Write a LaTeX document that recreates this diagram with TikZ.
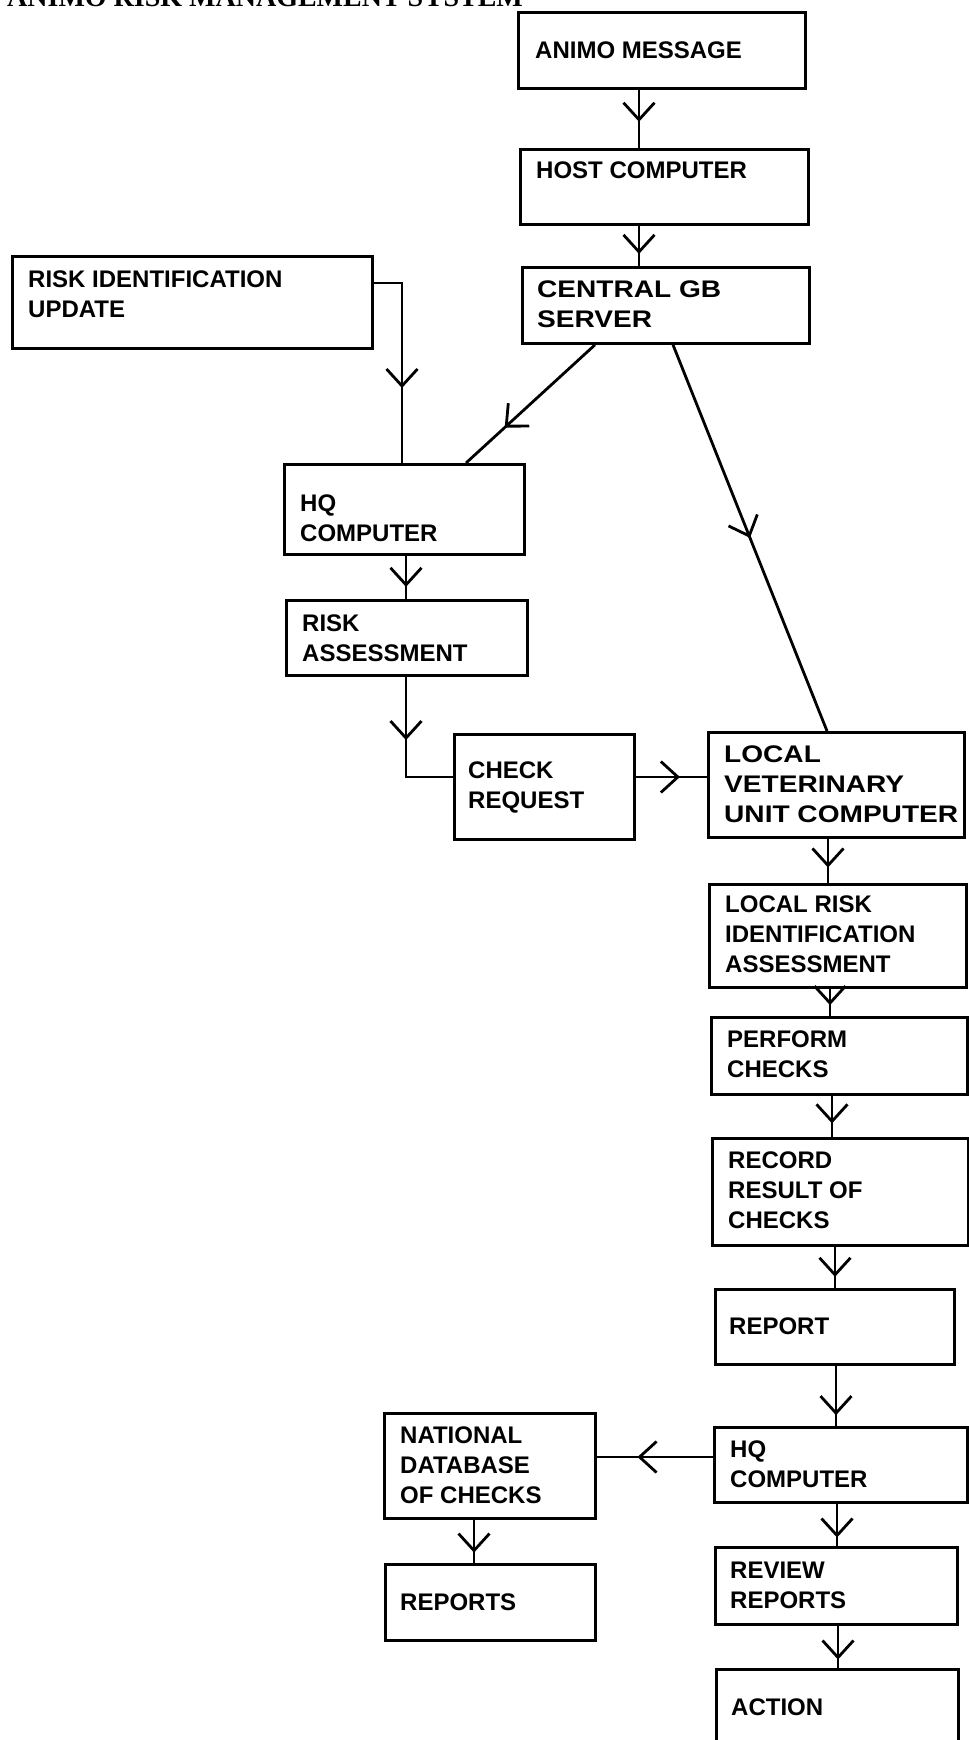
\documentclass[tikz,border=0pt]{standalone}
\usepackage{fontspec}
\setmainfont{Liberation Sans}
\newfontfamily\titlefont{Liberation Serif}
\newfontfamily\boxfont{Liberation Sans}
\newfontfamily\widefont[FakeStretch=1.17]{Liberation Sans}
\usetikzlibrary{arrows.meta,decorations.markings}
\begin{document}
\begin{tikzpicture}[x=1pt,y=-1pt,
  box/.style={draw, line width=2.8pt, inner sep=0pt, anchor=north west},
  lbl/.style={anchor=base west, align=left, inner sep=0pt, font=\boxfont\bfseries\fontsize{24}{30}\selectfont},
  big/.style={anchor=base west, align=left, inner sep=0pt, font=\widefont\bfseries\fontsize{24}{30}\selectfont},
  flow/.style={line width=2.8pt, postaction={decorate},
    decoration={markings, mark=at position #1 with {\arrow{Straight Barb[length=17pt,width=31pt,line width=2.8pt]}}}},
  flow/.default=0.5]
\useasboundingbox (0,0) rectangle (969,1740);
\clip (0,0) rectangle (969,1740);

% title (cut off at the top edge, as in the reference)
\node[anchor=base west, inner sep=0pt, font=\titlefont\bfseries\fontsize{28}{30}\selectfont] (title) at (7,6) {ANIMO RISK MANAGEMENT SYSTEM};

% boxes
\node[box, minimum width=287pt, minimum height=76pt]  (animo)     at (517,11) {};
\node[box, minimum width=288pt, minimum height=75pt]  (host)      at (519,148) {};
\node[box, minimum width=287pt, minimum height=76pt]  (central)   at (521,266) {};
\node[box, minimum width=360pt, minimum height=92pt]  (riskupd)   at (11,255) {};
\node[box, minimum width=240pt, minimum height=90pt]  (hqone)     at (283,463) {};
\node[box, minimum width=241pt, minimum height=75pt]  (riskass)   at (285,599) {};
\node[box, minimum width=180pt, minimum height=105pt] (check)     at (453,733) {};
\node[box, minimum width=256pt, minimum height=105pt] (localvet)  at (707,731) {};
\node[box, minimum width=257pt, minimum height=103pt] (localrisk) at (708,883) {};
\node[box, minimum width=256pt, minimum height=77pt]  (perform)   at (710,1016) {};
\node[box, minimum width=256pt, minimum height=107pt] (record)    at (711,1137) {};
\node[box, minimum width=239pt, minimum height=75pt]  (report)    at (714,1288) {};
\node[box, minimum width=253pt, minimum height=75pt]  (hqtwo)     at (713,1426) {};
\node[box, minimum width=211pt, minimum height=105pt] (natdb)     at (383,1412) {};
\node[box, minimum width=210pt, minimum height=76pt]  (reports)   at (384,1563) {};
\node[box, minimum width=242pt, minimum height=77pt]  (review)    at (714,1546) {};
\node[box, minimum width=242pt, minimum height=110pt] (action)    at (715,1668) {};

% texts (anchored at the baseline of their last line)
\node[lbl] (t-animo)     at (535,58)   {ANIMO MESSAGE};
\node[lbl] (t-host)      at (536,178)  {HOST COMPUTER};
\node[big] (t-central)   at (537,327)  {CENTRAL GB\\SERVER};
\node[lbl] (t-riskupd)   at (28,317)   {RISK IDENTIFICATION\\UPDATE};
\node[lbl] (t-hqone)     at (300,541)  {HQ\\COMPUTER};
\node[lbl] (t-riskass)   at (302,661)  {RISK\\ASSESSMENT};
\node[lbl] (t-check)     at (468,808)  {CHECK\\REQUEST};
\node[big] (t-localvet)  at (724,822)  {LOCAL\\VETERINARY\\UNIT COMPUTER};
\node[lbl] (t-localrisk) at (725,972)  {LOCAL RISK\\IDENTIFICATION\\ASSESSMENT};
\node[lbl] (t-perform)   at (727,1077) {PERFORM\\CHECKS};
\node[lbl] (t-record)    at (728,1228) {RECORD\\RESULT OF\\CHECKS};
\node[lbl] (t-report)    at (729,1334) {REPORT};
\node[lbl] (t-hqtwo)     at (730,1487) {HQ\\COMPUTER};
\node[lbl] (t-natdb)     at (400,1503) {NATIONAL\\DATABASE\\OF CHECKS};
\node[lbl] (t-reports)   at (400,1610) {REPORTS};
\node[lbl] (t-review)    at (730,1608) {REVIEW\\REPORTS};
\node[lbl] (t-action)    at (731,1715) {ACTION};

% helper coordinates for connector lines
\coordinate (xa) at (639,0);
\coordinate (xb) at (402,0);
\coordinate (xc) at (595,0);
\coordinate (xd) at (466,0);
\coordinate (xe) at (673,0);
\coordinate (xf) at (827,0);
\coordinate (xg) at (406,0);
\coordinate (xh) at (828,0);
\coordinate (xi) at (830,0);
\coordinate (xj) at (832,0);
\coordinate (xk) at (835,0);
\coordinate (xl) at (836,0);
\coordinate (xm) at (474,0);
\coordinate (xn) at (837,0);
\coordinate (xo) at (838,0);
\coordinate (ya) at (0,283);
\coordinate (yb) at (0,777);
\coordinate (yc) at (0,1457);

% connectors
\draw[flow=0.55] (animo.south -| xa) -- (host.north -| xa);
\draw[flow=0.70] (host.south -| xa) -- (central.north -| xa);
\draw[flow=0.64] (riskupd.east |- ya) -| (hqone.north -| xb);
\draw[flow=0.70] (central.south -| xc) -- (hqone.north -| xd);
\draw[flow=0.50] (central.south -| xe) -- (localvet.north -| xf);
\draw[flow=0.72] (hqone.south -| xg) -- (riskass.north -| xg);
\draw[flow=0.43] (riskass.south -| xg) |- (check.west |- yb);
\draw[flow=0.62] (check.east |- yb) -- (localvet.west |- yb);
\draw[flow=0.65] (localvet.south -| xh) -- (localrisk.north -| xh);
\draw[flow=0.60] (localrisk.south -| xi) -- (perform.north -| xi);
\draw[flow=0.67] (perform.south -| xj) -- (record.north -| xj);
\draw[flow=0.73] (record.south -| xk) -- (report.north -| xk);
\draw[flow=0.82] (report.south -| xl) -- (hqtwo.north -| xl);
\draw[flow=0.65] (hqtwo.west |- yc) -- (natdb.east |- yc);
\draw[flow=0.76] (natdb.south -| xm) -- (reports.north -| xm);
\draw[flow=0.80] (hqtwo.south -| xn) -- (review.north -| xn);
\draw[flow=0.80] (review.south -| xo) -- (action.north -| xo);
\end{tikzpicture}
\end{document}
